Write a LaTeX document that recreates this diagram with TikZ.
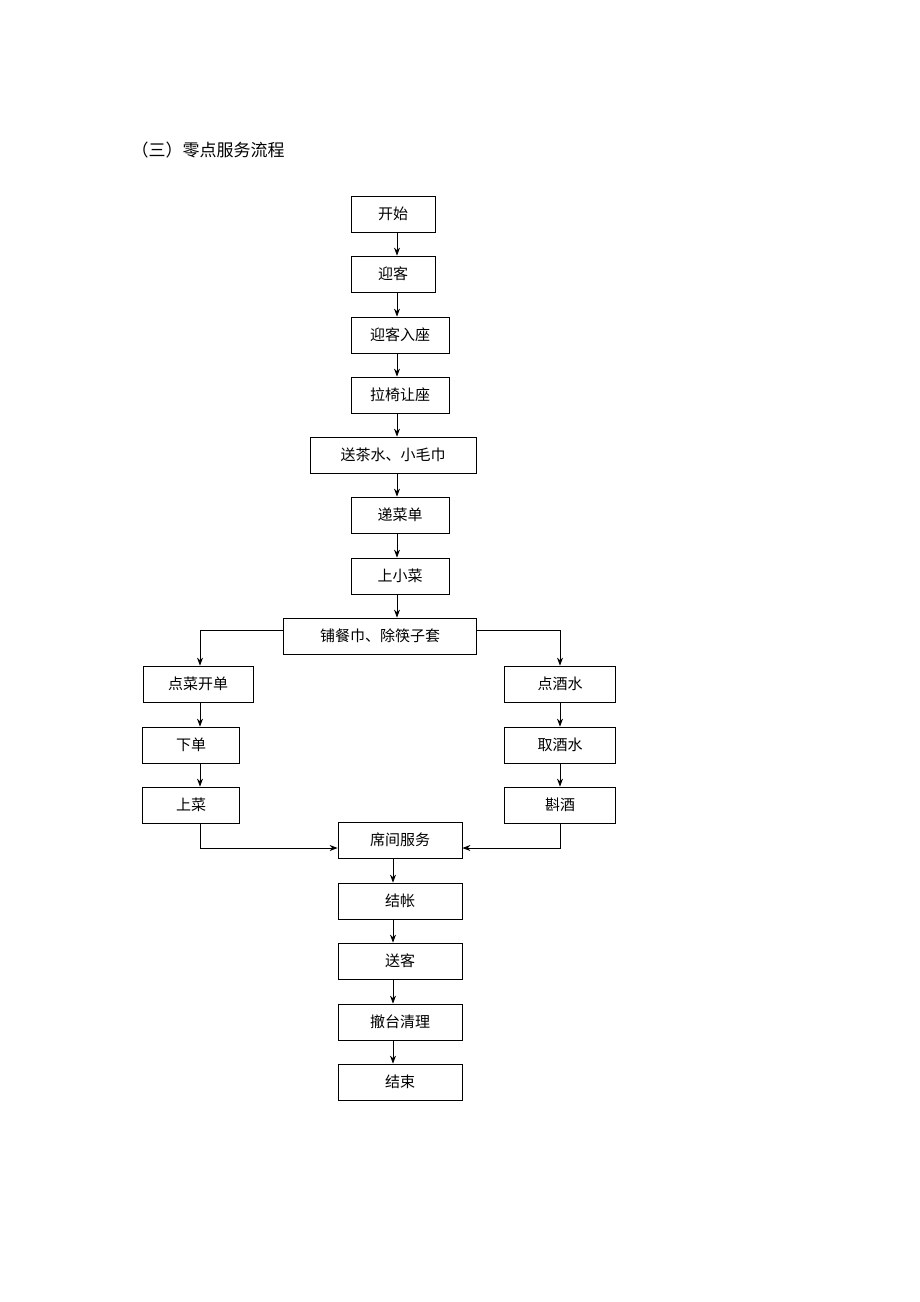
\documentclass[tikz,border=0pt]{standalone}
\usepackage{fontspec}
\setmainfont{Noto Sans CJK SC}
\usetikzlibrary{arrows.meta}
\tikzset{
  stepbox/.style={draw, thick, minimum height=36pt, inner sep=0pt, font=\fontsize{15}{15}\selectfont},
  arr/.style={draw, thick, -{Stealth[length=8pt,width=6pt]}},
  line/.style={draw, thick}
}
\begin{document}
\begin{tikzpicture}[x=1pt,y=-1pt]
  \useasboundingbox (0,0) rectangle (920,1302);
  \node[anchor=west, font=\fontsize{17}{17}\selectfont] (title) at (128,150) {（三）零点服务流程};

  % The main column
  \foreach \cx/\cy/\w/\name/\txt in {393/214/84/kaishi/开始, 393/274/84/yingke/迎客,
      400/335/98/ruzuo/迎客入座, 400/395/98/rangzuo/拉椅让座, 393/455/166/chashui/送茶水、小毛巾,
      400/515/98/caidan/递菜单, 400/576/98/xiaocai/上小菜, 380/636/193/canjin/铺餐巾、除筷子套,
      400/840/124/xijian/席间服务, 400/901/124/jiezhang/结帐, 400/961/124/songke/送客,
      400/1022/124/chetai/撤台清理, 400/1082/124/jieshu/结束}
    \node[stepbox, minimum width=\w] (\name) at (\cx,\cy) {\txt};

  % The two branches
  \foreach \cx/\cy/\w/\name/\txt in {198/684/110/diancai/点菜开单, 191/745/97/xiadan/下单,
      191/805/97/shangcai/上菜, 560/684/111/jiushui/点酒水, 560/745/111/qujiu/取酒水,
      560/805/111/zhenjiu/斟酒}
    \node[stepbox, minimum width=\w] (\name) at (\cx,\cy) {\txt};

  \coordinate (col) at (397,0);
  \foreach \source/\dest in {kaishi/yingke, yingke/ruzuo, ruzuo/rangzuo, rangzuo/chashui,
      chashui/caidan, caidan/xiaocai, xiaocai/canjin}
    \path[arr] (\source.south -| col) -- (\dest.north -| col);
  \coordinate (col2) at (393,0);
  \foreach \source/\dest in {xijian/jiezhang, jiezhang/songke, songke/chetai, chetai/jieshu}
    \path[arr] (\source.south -| col2) -- (\dest.north -| col2);

  \coordinate (lcol) at (200,0);
  \coordinate (rcol) at (560,0);
  \coordinate (split) at (0,630);
  \coordinate (join) at (0,848);
  \path[arr] (canjin.west |- split) -- (lcol |- split) -- (diancai.north -| lcol);
  \path[arr] (canjin.east |- split) -- (rcol |- split) -- (jiushui.north -| rcol);
  \foreach \source/\dest in {diancai/xiadan, xiadan/shangcai}
    \path[arr] (\source.south -| lcol) -- (\dest.north -| lcol);
  \foreach \source/\dest in {jiushui/qujiu, qujiu/zhenjiu}
    \path[arr] (\source.south -| rcol) -- (\dest.north -| rcol);
  \path[arr] (shangcai.south -| lcol) -- (lcol |- join) -- (xijian.west |- join);
  \path[arr] (zhenjiu.south -| rcol) -- (rcol |- join) -- (xijian.east |- join);
\end{tikzpicture}
\end{document}
